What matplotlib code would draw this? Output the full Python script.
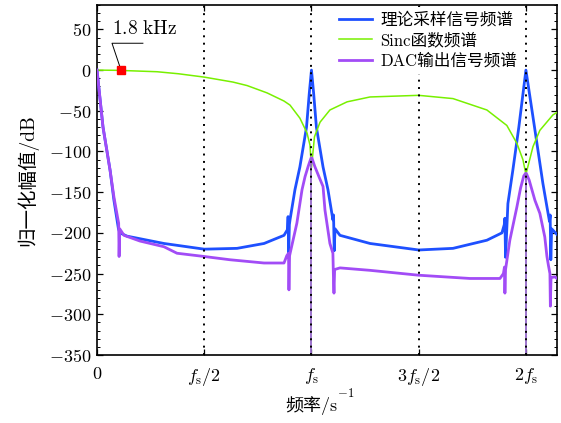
import numpy as np
import matplotlib
matplotlib.use('Agg')
import matplotlib.pyplot as plt
from matplotlib.ticker import MultipleLocator

plt.rcParams['mathtext.fontset'] = 'cm'
plt.rcParams['font.family'] = ['cmr10', 'Noto Sans CJK SC', 'DejaVu Sans']
plt.rcParams['axes.unicode_minus'] = False

# ---- data (x in units of fs, y in dB) ----
sinc_x  = [0, 0.10, 0.28, 0.38, 0.50, 0.634, 0.70, 0.793, 0.872, 0.90, 0.946, 0.979,
           0.993, 1.0, 1.014, 1.040, 1.086, 1.166, 1.273, 1.50, 1.66, 1.818, 1.911,
           1.958, 1.986, 2.0, 2.033, 2.065, 2.126, 2.145]
sinc_db = [0, -0.3, -2, -4.5, -8.6, -14.7, -19, -28, -38, -43, -59, -77,
           -92, -120, -82, -64, -49, -39, -33, -31, -35, -49, -68,
           -90, -110, -128, -94, -74, -55, -52]

ideal_x  = [0, 0.028, 0.061, 0.079, 0.100, 0.107, 0.14, 0.312, 0.50, 0.653, 0.779,
            0.872, 0.888, 0.891, 0.894, 0.897, 0.900, 0.923, 0.946, 0.977, 0.99, 1.0,
            1.01, 1.023, 1.054, 1.077, 1.100, 1.103, 1.106, 1.110, 1.133, 1.273, 1.50,
            1.66, 1.818, 1.888, 1.899, 1.902, 1.905, 1.916, 1.939, 1.967, 2.0, 2.04,
            2.079, 2.098, 2.110, 2.113, 2.116, 2.120, 2.145]
ideal_db = [0, -70, -123, -160, -195, -200, -204, -213, -220, -219, -213,
            -203, -196, -180, -225, -190, -184, -147, -119, -70, -28, 0,
            -28, -70, -119, -147, -184, -178, -222, -195, -203, -213, -221,
            -219, -209, -200, -190, -182, -230, -164, -123, -70, 0, -70,
            -139, -168, -186, -178, -233, -195, -202]

dac_x  = [0, 0.028, 0.061, 0.079, 0.098, 0.101, 0.103, 0.106, 0.126, 0.20, 0.312,
          0.373, 0.50, 0.62, 0.779, 0.872, 0.885, 0.893, 0.895, 0.898, 0.932, 0.956,
          0.97, 0.985, 0.998, 1.002, 1.015, 1.035, 1.054, 1.063, 1.086, 1.10,
          1.103, 1.105, 1.108, 1.133, 1.273, 1.50, 1.739, 1.879, 1.895, 1.90, 1.902,
          1.905, 1.925, 1.958, 1.975, 1.99, 1.998, 2.002, 2.015, 2.042, 2.065,
          2.088, 2.098, 2.105, 2.112, 2.114, 2.117, 2.135, 2.145]
dac_db = [0, -70, -123, -156, -184, -188, -229, -195, -203, -210, -217,
          -225, -229, -233, -237, -237, -228, -225, -270, -228, -188, -147,
          -131, -118, -108, -108, -118, -131, -143, -172, -213, -225,
          -260, -274, -245, -243, -246, -252, -256, -256, -250, -242, -274,
          -245, -209, -168, -145, -130, -127, -127, -135, -160, -176,
          -205, -229, -240, -250, -290, -255, -254, -256]

# DAC nulls at fs and 2fs drop to the bottom of the plot
null_x   = [1.0, 2.0]
null_top = [-108, -127]
null_bottom = -350

marker_x, marker_db = 0.112, 0
xticks = [0, 0.5, 1, 1.5, 2]
xtick_labels = ['$0$', r'$f_{\rm s}/2$', r'$f_{\rm s}$', r'$3f_{\rm s}/2$', r'$2f_{\rm s}$']
yticks = list(range(-350, 51, 50))

blue = '#1E50FF'
green = '#78F000'
purple = '#A24CF6'

fig = plt.figure(figsize=(5.61, 4.23), dpi=100)
ax = fig.add_axes([0.1729, 0.1608, 0.8200, 0.8274])

ax.plot(ideal_x, ideal_db, color=blue, lw=2.0, label='理论采样信号频谱', zorder=3)
ax.plot(sinc_x, sinc_db, color=green, lw=1.1, label='Sinc函数频谱', zorder=4)
ax.plot(dac_x, dac_db, color=purple, lw=2.0, label='DAC输出信号频谱', zorder=5)
ax.vlines(null_x, null_bottom, null_top, color='#9468C8', lw=1.3, zorder=5)

for xv in xticks[1:]:
    ax.axvline(xv, color='black', lw=1.4, ls=(0, (1, 2.8)), zorder=6)

# 1.8 kHz marker and leader line
ax.plot([marker_x], [marker_db], 's', color='red', ms=6, zorder=8)
ax.plot([marker_x, 0.07, 0.214], [marker_db, 33, 33], color='black', lw=0.7, zorder=7)
ax.text(0.07, 40, r'$1.8\ \mathrm{kHz}$', fontsize=14, ha='left', va='bottom')

ax.set_xlim(0, 2.145)
ax.set_ylim(-350, 80)
ax.set_xticks(xticks, labels=xtick_labels)
ax.set_yticks(yticks, labels=[f'${v}$' for v in yticks])
ax.yaxis.set_minor_locator(MultipleLocator(10))
ax.tick_params(axis='both', which='both', direction='in', top=True, right=True, labelsize=13)
ax.tick_params(axis='both', which='major', length=4, width=0.9)
ax.tick_params(axis='y', which='minor', length=2, width=0.7)
ax.tick_params(axis='x', pad=8)
ax.tick_params(axis='y', pad=4)
for s in ax.spines.values():
    s.set_linewidth(1.2)

ax.set_xlabel('频率/s', fontsize=13)
ax.xaxis.set_label_coords(0.465, -0.118)
ax.annotate(r'${}^{-1}$', xy=(1.0, 0.55), xycoords=ax.xaxis.label,
            fontsize=13, ha='left', va='bottom')
ax.set_ylabel('归一化幅值/dB', fontsize=14, labelpad=8)

leg = ax.legend(loc='upper left', bbox_to_anchor=(0.515, 0.995), frameon=True,
                fontsize=12, handlelength=2.0, handletextpad=0.5, labelspacing=0.3,
                borderaxespad=0, borderpad=0.3, fancybox=False, framealpha=1,
                edgecolor='none', facecolor='white')
leg.set_zorder(10)

plt.savefig('out.png', dpi=100)
